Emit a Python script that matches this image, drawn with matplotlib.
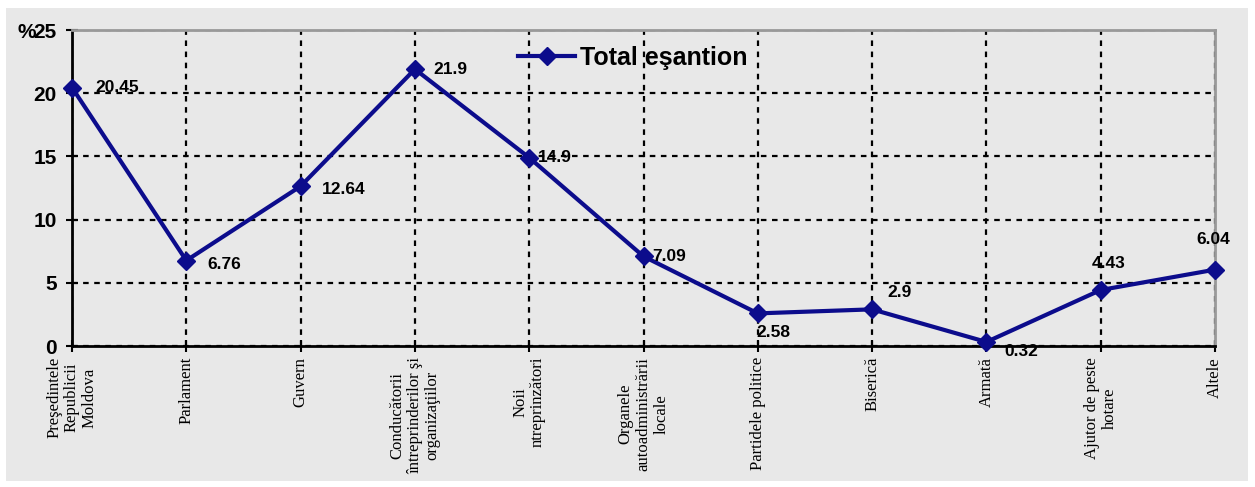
import numpy as np
import matplotlib.pyplot as plt
from matplotlib.patches import Rectangle

# === Data ===
categories = [
    "Preşedintele\nRepublicii\nMoldova",
    "Parlament",
    "Guvern",
    "Conducătorii\nîntreprinderilor şi\norganizaţiilor",
    "Noii\nntreprinzători",
    "Organele\nautoadministrării\nlocale",
    "Partidele politice",
    "Biserică",
    "Armată",
    "Ajutor de peste\nhotare",
    "Altele",
]
values = [20.45, 6.76, 12.64, 21.9, 14.9, 7.09, 2.58, 2.9, 0.32, 4.43, 6.04]
value_labels = ["20.45", "6.76", "12.64", "21.9", "14.9", "7.09", "2.58", "2.9", "0.32", "4.43", "6.04"]
series_name = "Total eşantion"
y_ticks = [0, 5, 10, 15, 20, 25]

# label offsets in points (dx, dy) and horizontal alignment
label_offsets = [(17, 0, 'left'), (15, -3, 'left'), (15, -2, 'left'), (13, 0, 'left'),
                 (6, 0, 'left'), (6, 0, 'left'), (-1, -14, 'left'), (11, 12, 'left'),
                 (13, -7, 'left'), (6, 19, 'center'), (-1, 22, 'center')]

gray = '#e8e8e8'
navy = '#0c0c8c'

fig = plt.figure(figsize=(12.55, 4.87), dpi=100)
fig.patches.append(Rectangle((6 / 1255, 1 - 481 / 487), 1242 / 1255, 473 / 487,
                             transform=fig.transFigure, facecolor=gray,
                             edgecolor='none', zorder=-1))

ax = fig.add_axes([72 / 1255, 1 - 346 / 487, 1143 / 1255, 316 / 487])
ax.set_facecolor(gray)

x = np.arange(len(categories))
ax.plot(x, values, color=navy, lw=3, marker='D', ms=9, clip_on=False,
        zorder=5, label=series_name)

for xi, v, txt, (dx, dy, ha) in zip(x, values, value_labels, label_offsets):
    ax.annotate(txt, (xi, v), xytext=(dx, dy), textcoords='offset points',
                ha=ha, va='center', fontsize=12.5, fontweight='bold',
                family=['Liberation Sans', 'DejaVu Sans'], zorder=6)

ax.set_xlim(0, len(categories) - 1)
ax.set_ylim(0, 25)
ax.set_yticks(y_ticks)
ax.set_yticklabels([str(t) for t in y_ticks], fontsize=15, fontweight='bold',
                   family='Liberation Sans')
ax.set_xticks(x)
ax.set_xticklabels(categories, rotation=90, fontsize=12, family='Liberation Serif',
                   ha='center', va='top', multialignment='center', linespacing=1.15)

ax.tick_params(axis='x', direction='inout', length=8, width=1.5, pad=4)
ax.tick_params(axis='y', direction='inout', length=8, width=1.5, pad=7)

ax.grid(True, color='black', linestyle=(0, (2.5, 2.5)), linewidth=1.6)
ax.set_axisbelow(True)

for side in ['left', 'bottom']:
    ax.spines[side].set_color('black')
    ax.spines[side].set_linewidth(2)
for side in ['top', 'right']:
    ax.spines[side].set_color('#999999')
    ax.spines[side].set_linewidth(2)

ax.legend(loc='center left', bbox_to_anchor=(0.39, 0.911), frameon=False,
          prop={'family': ['Liberation Sans', 'DejaVu Sans'], 'weight': 'bold', 'size': 18},
          handlelength=2.3, handletextpad=0.2, borderpad=0, borderaxespad=0)

fig.text(17 / 1255, 1 - 32 / 487, "%", fontsize=15, fontweight='bold',
         family='Liberation Sans', ha='left', va='center')

fig.savefig('out.png', dpi=100)
